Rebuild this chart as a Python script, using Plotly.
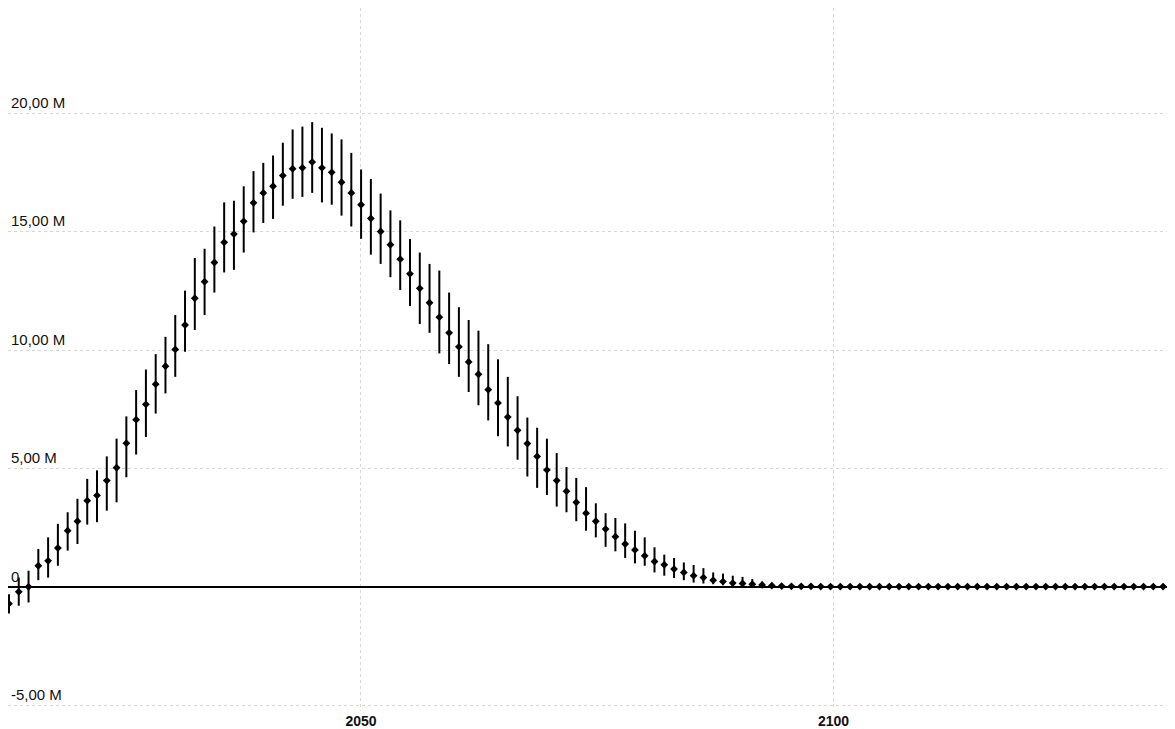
import plotly.graph_objects as go

# Data (values in millions); points are evenly spaced in time
x_start = 2012.75
x_step = 1.035
center = [-0.71, -0.21, 0.00, 0.89, 1.10, 1.64, 2.37, 2.77, 3.64, 3.86,
          4.49, 5.03, 6.07, 7.06, 7.71, 8.56, 9.32, 10.03, 11.06, 12.19,
          12.89, 13.70, 14.55, 14.90, 15.44, 16.22, 16.64, 16.92, 17.37, 17.66,
          17.70, 17.94, 17.70, 17.51, 17.09, 16.64, 16.14, 15.56, 15.01, 14.45,
          13.84, 13.22, 12.61, 12.00, 11.39, 10.73, 10.14, 9.50, 8.98, 8.33,
          7.77, 7.17, 6.61, 6.05, 5.51, 4.94, 4.49, 4.04, 3.57, 3.11,
          2.77, 2.44, 2.12, 1.81, 1.56, 1.31, 1.07, 0.93, 0.75, 0.61,
          0.47, 0.39, 0.28, 0.22, 0.16, 0.14, 0.11, 0.08, 0.05, 0.03,
          0.02, 0.02, 0.02, 0.01, 0.01, 0.01, 0.01, 0.01, 0.01, 0.01,
          0.01, 0.01, 0.01, 0.01, 0.01, 0.01, 0.01, 0.01, 0.01, 0.01,
          0.01, 0.01, 0.01, 0.01, 0.01, 0.01, 0.01, 0.01, 0.01, 0.01,
          0.01, 0.01, 0.01, 0.01, 0.01, 0.01, 0.01, 0.01, 0.01, 0.01]
upper = [-0.31, 0.39, 0.68, 1.60, 2.09, 2.66, 3.15, 3.72, 4.56, 4.92,
         5.51, 6.26, 7.20, 8.31, 9.18, 9.83, 10.56, 11.48, 12.51, 13.89,
         14.28, 15.22, 16.24, 16.31, 16.92, 17.56, 17.91, 18.22, 18.76, 19.32,
         19.44, 19.63, 19.39, 19.15, 18.90, 18.33, 17.63, 17.23, 16.61, 15.90,
         15.48, 14.69, 14.12, 13.64, 13.36, 12.43, 11.81, 11.27, 10.82, 10.25,
         9.61, 8.87, 8.05, 7.15, 6.72, 6.26, 5.65, 5.06, 4.60, 4.21,
         3.53, 3.11, 2.91, 2.68, 2.37, 2.09, 1.67, 1.36, 1.22, 1.03,
         0.92, 0.79, 0.61, 0.56, 0.47, 0.42, 0.33, 0.22, 0.15, 0.08,
         0.05, 0.04, 0.03, 0.02, 0.02, 0.02, 0.02, 0.02, 0.02, 0.02,
         0.02, 0.02, 0.02, 0.02, 0.02, 0.02, 0.02, 0.02, 0.02, 0.02,
         0.02, 0.02, 0.02, 0.02, 0.02, 0.02, 0.02, 0.02, 0.02, 0.02,
         0.02, 0.02, 0.02, 0.02, 0.02, 0.02, 0.02, 0.02, 0.02, 0.02]
lower = [-1.13, -0.80, -0.66, 0.28, 0.39, 0.89, 1.53, 1.81, 2.63, 2.73,
         3.22, 3.57, 4.63, 5.59, 6.33, 7.32, 8.17, 8.87, 9.93, 10.85,
         11.48, 12.43, 13.28, 13.39, 14.12, 14.97, 15.37, 15.54, 16.10, 16.39,
         16.47, 16.64, 16.24, 16.14, 15.68, 15.22, 14.70, 14.03, 13.64, 13.08,
         12.54, 11.86, 11.10, 10.73, 9.86, 9.41, 8.87, 8.23, 7.67, 7.03,
         6.36, 5.93, 5.37, 4.66, 4.18, 3.88, 3.39, 3.15, 2.77, 2.37,
         2.09, 1.69, 1.50, 1.22, 0.99, 0.89, 0.61, 0.47, 0.37, 0.28,
         0.18, 0.14, 0.11, 0.07, 0.03, 0.02, 0.01, 0.00, 0.00, 0.00,
         0.00, 0.00, 0.00, 0.00, 0.00, 0.00, 0.00, 0.00, 0.00, 0.00,
         0.00, 0.00, 0.00, 0.00, 0.00, 0.00, 0.00, 0.00, 0.00, 0.00,
         0.00, 0.00, 0.00, 0.00, 0.00, 0.00, 0.00, 0.00, 0.00, 0.00,
         0.00, 0.00, 0.00, 0.00, 0.00, 0.00, 0.00, 0.00, 0.00, 0.00]
y_tick_vals = [-5, 0, 5, 10, 15, 20]
y_tick_text = ["-5,00 M", "0", "5,00 M", "10,00 M", "15,00 M", "20,00 M"]
x_tick_vals = [2050, 2100]
x_tick_text = ["2050", "2100"]

xs = [x_start + i * x_step for i in range(len(center))]
err_plus = [u - c for u, c in zip(upper, center)]
err_minus = [c - l for c, l in zip(center, lower)]

fig = go.Figure()
fig.add_trace(go.Scatter(
    x=xs, y=center, mode="markers",
    marker=dict(symbol="diamond", size=6, color="black"),
    error_y=dict(type="data", symmetric=False, array=err_plus,
                 arrayminus=err_minus, color="black", thickness=2, width=0),
    showlegend=False, cliponaxis=False,
))

fig.update_layout(
    width=1167, height=721,
    margin=dict(l=0, r=0, t=0, b=16),
    paper_bgcolor="white", plot_bgcolor="white",
    font=dict(family="Liberation Sans, Arial, sans-serif", color="#111"),
    xaxis=dict(
        range=[2012.646, 2136.14],
        tickvals=x_tick_vals, ticktext=x_tick_text,
        tickfont=dict(size=14, family="Liberation Sans, Arial, sans-serif", color="#111",
                      weight="bold"),
        showgrid=True, gridcolor="#d6d6d6", griddash="dot", gridwidth=1,
        zeroline=False, showline=False, ticks="",
    ),
    yaxis=dict(
        range=[-5.245, 24.45],
        tickvals=y_tick_vals, ticktext=y_tick_text,
        ticklabelposition="inside top",
        tickfont=dict(size=15, color="#111"),
        showgrid=True, gridcolor="#d6d6d6", griddash="dot", gridwidth=1,
        zeroline=True, zerolinecolor="black", zerolinewidth=1.5,
        showline=False, ticks="",
    ),
)

fig.write_html("out.html")
